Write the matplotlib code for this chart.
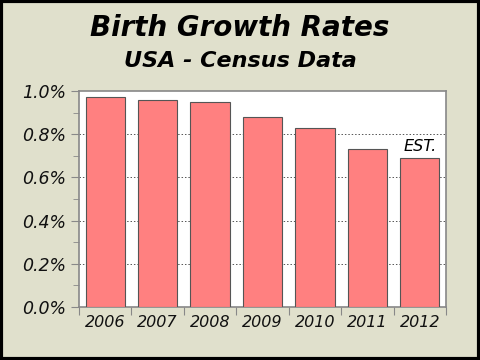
import matplotlib
matplotlib.use("Agg")
import matplotlib.pyplot as plt
from matplotlib.patches import Rectangle
from matplotlib.ticker import FuncFormatter, MultipleLocator

years = ["2006", "2007", "2008", "2009", "2010", "2011", "2012"]
rates = [0.97, 0.96, 0.95, 0.88, 0.83, 0.73, 0.69]  # percent

bg = "#e0e0cc"
fig = plt.figure(figsize=(4.8, 3.6), dpi=100, facecolor=bg)
ax = fig.add_axes([79 / 480, 1 - 307 / 360, (446 - 79) / 480, (307 - 91) / 360])
ax.set_facecolor("white")

x = list(range(len(years)))
ax.bar(x, rates, width=0.75, color="#ff8080", edgecolor="#555555", linewidth=0.8, zorder=3)

ax.set_xlim(-0.5, len(years) - 0.5)
ax.set_ylim(0, 1.0)

# dotted grid lines
for g in [0.2, 0.4, 0.6, 0.8]:
    ax.axhline(g, color="#555555", linestyle=(0, (1.5, 2)), linewidth=0.7, zorder=1)

ax.yaxis.set_major_locator(MultipleLocator(0.2))
ax.yaxis.set_minor_locator(MultipleLocator(0.1))
ax.yaxis.set_major_formatter(FuncFormatter(lambda v, p: "%.1f%%" % v))
ax.tick_params(axis="y", which="major", length=6, color="#888888", labelsize=12.5, pad=3)
ax.tick_params(axis="y", which="minor", length=4, color="#888888")

ax.set_xticks([i + 0.5 for i in x[:-1]] + [-0.5, len(years) - 0.5])
ax.set_xticks(x, minor=True)
ax.set_xticklabels(years, minor=True)
ax.set_xticklabels([""] * (len(years) + 1))
ax.tick_params(axis="x", which="major", length=6, color="#888888")
ax.tick_params(axis="x", which="minor", length=0, labelsize=11.5, pad=6)

for lab in ax.get_yticklabels() + ax.get_xticklabels(minor=True):
    lab.set_fontstyle("italic")
    lab.set_color("#111111")

for s in ax.spines.values():
    s.set_color("#888888")
    s.set_linewidth(1.2)

ax.text(6, 0.71, "EST.", ha="center", va="bottom", fontsize=11.5, fontstyle="italic", zorder=4)

fig.text(0.5, 1 - 28 / 360, "Birth Growth Rates", ha="center", va="center",
         fontsize=20, fontweight="bold", fontstyle="italic")
fig.text(0.5, 1 - 61 / 360, "USA - Census Data", ha="center", va="center",
         fontsize=16, fontweight="bold", fontstyle="italic")

fig.patches.append(Rectangle((0.003, 0.004), 0.994, 0.992, transform=fig.transFigure,
                             fill=False, edgecolor="black", linewidth=3))

fig.savefig("out.png", dpi=100, facecolor=bg)
